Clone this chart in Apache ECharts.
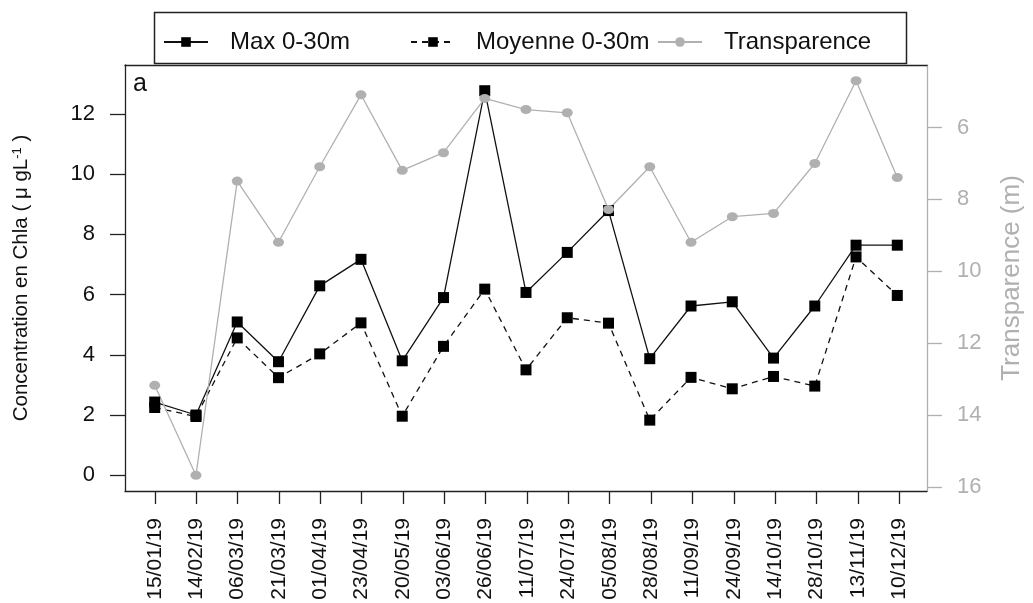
<!DOCTYPE html>
<html>
<head>
<meta charset="utf-8">
<script src="https://cdn.jsdelivr.net/npm/echarts@6/dist/echarts.min.js"></script>
<style>
html,body{margin:0;padding:0;background:#fff;}
#c{width:1033px;height:603px;}
</style>
</head>
<body>
<div id="c"></div>
<script>
const dates = ['15/01/19','14/02/19','06/03/19','21/03/19','01/04/19','23/04/19','20/05/19','03/06/19','26/06/19','11/07/19','24/07/19','05/08/19','28/08/19','11/09/19','24/09/19','14/10/19','28/10/19','13/11/19','10/12/19'];
const maxChla = [2.43,2.0,5.09,3.77,6.29,7.17,3.80,5.90,12.77,6.07,7.40,8.79,3.87,5.62,5.76,3.89,5.62,7.64,7.64];
const moyChla = [2.25,1.95,4.56,3.24,4.03,5.06,1.96,4.28,6.18,3.50,5.23,5.05,1.83,3.25,2.87,3.28,2.96,7.25,5.97];
const transp = [13.17,15.67,7.49,9.19,7.09,5.09,7.19,6.70,5.19,5.50,5.59,8.28,7.09,9.19,8.48,8.39,7.00,4.70,7.39];
const leftTicks = [0,2,4,6,8,10,12];
const rightTicks = [6,8,10,12,14,16];

const pairs = arr => arr.map((v,i)=>[i+1,v]);
const GRAY = '#b0b0b0';
const FONT = "'Liberation Sans', Arial, sans-serif";

const chart = echarts.init(document.getElementById('c'), null, {renderer:'canvas'});
chart.setOption({
  animation:false,
  backgroundColor:'#fff',
  grid:[
    {left:125, right:104, top:65, bottom:112, show:false},
    {left:154.8, right:133.8, top:65, bottom:112, show:false}
  ],
  legend:[
    {data:['Max 0-30m'], left:158, top:25, itemWidth:44, itemHeight:12, itemGap:0,
     textStyle:{fontSize:24, color:'#111', fontFamily:FONT, padding:[0,0,0,17]}},
    {data:['Moyenne 0-30m'], left:405, top:25, itemWidth:44, itemHeight:12, itemGap:0,
     textStyle:{fontSize:24, color:'#111', fontFamily:FONT, padding:[0,0,0,16]}},
    {data:['Transparence'], left:652, top:25, itemWidth:44, itemHeight:12, itemGap:0,
     textStyle:{fontSize:24, color:'#111', fontFamily:FONT, padding:[0,0,0,17]}}
  ],
  graphic:[
    {type:'rect', left:152, top:10, shape:{width:752, height:51}, style:{fill:null, stroke:'#222', lineWidth:1.5}, z:-1},
    {type:'text', left:133, top:72, style:{text:'a', fontSize:25, fill:'#111', fontFamily:FONT}}
  ],
  xAxis:[
    {type:'value', gridIndex:0, min:0.28, max:19.72, position:'bottom',
     axisLine:{show:true, onZero:false, lineStyle:{color:'#222', width:1.3}},
     axisTick:{show:false}, axisLabel:{show:false}, splitLine:{show:false}},
    {type:'value', gridIndex:0, min:0.28, max:19.72, position:'top',
     axisLine:{show:true, onZero:false, lineStyle:{color:'#222', width:1.3}},
     axisTick:{show:false}, axisLabel:{show:false}, splitLine:{show:false}},
    {type:'category', gridIndex:1, data:dates, boundaryGap:false, position:'bottom',
     axisLine:{show:false, onZero:false},
     axisTick:{show:true, length:13, interval:0, lineStyle:{color:'#222', width:1.3}},
     axisLabel:{interval:0, rotate:90, margin:27, fontSize:21, color:'#111', fontFamily:FONT},
     splitLine:{show:false}}
  ],
  yAxis:[
    {type:'value', gridIndex:0, min:-0.524, max:13.624, position:'left',
     name:'Concentration en Chla ( μ gL{s|-1} )', nameLocation:'middle', nameGap:93,
     nameTextStyle:{fontSize:20.5, color:'#111', fontFamily:FONT,
       rich:{s:{fontSize:13, verticalAlign:'top', color:'#111', fontFamily:FONT}}},
     axisLine:{show:true, onZero:false, lineStyle:{color:'#222', width:1.3}},
     axisTick:{show:true, length:15, customValues:leftTicks, lineStyle:{color:'#222', width:1.3}},
     axisLabel:{customValues:leftTicks, margin:30, fontSize:22, color:'#111', fontFamily:FONT},
     splitLine:{show:false}},
    {type:'value', gridIndex:0, min:4.261, max:16.109, inverse:true, position:'right',
     name:'Transparence (m)', nameLocation:'middle', nameGap:72,
     nameTextStyle:{fontSize:26, color:GRAY, fontFamily:FONT},
     axisLine:{show:true, onZero:false, lineStyle:{color:GRAY, width:1.3}},
     axisTick:{show:true, length:15, customValues:rightTicks, lineStyle:{color:GRAY, width:1.3}},
     axisLabel:{customValues:rightTicks, margin:30, fontSize:22, color:GRAY, fontFamily:FONT},
     splitLine:{show:false}},
    {type:'value', gridIndex:1, show:false}
  ],
  series:[
    {name:'Max 0-30m', type:'line', xAxisIndex:0, yAxisIndex:0, data:pairs(maxChla),
     symbol:'rect', symbolSize:11, itemStyle:{color:'#000'},
     lineStyle:{color:'#111', width:1.3, type:'solid'}},
    {name:'Moyenne 0-30m', type:'line', xAxisIndex:0, yAxisIndex:0, data:pairs(moyChla),
     symbol:'rect', symbolSize:11, itemStyle:{color:'#000'},
     lineStyle:{color:'#111', width:1.3, type:[6,5]}},
    {name:'Transparence', type:'line', xAxisIndex:0, yAxisIndex:1, data:pairs(transp),
     symbol:'circle', symbolSize:[11,9], itemStyle:{color:GRAY},
     lineStyle:{color:GRAY, width:1.3}}
  ]
});
</script>
</body>
</html>
